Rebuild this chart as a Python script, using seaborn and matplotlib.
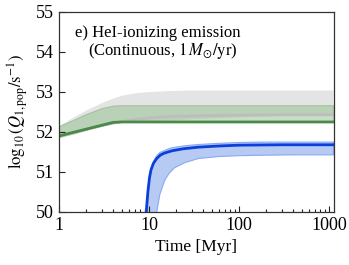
import matplotlib
matplotlib.use("Agg")
import matplotlib.pyplot as plt
import seaborn as sns
import numpy as np

# time grids [Myr]
t_old = [1, 1.5, 2, 3, 4, 5, 7, 10, 15, 20, 30, 50, 100, 300, 1100]
# grey model (band + line)
grey_lo = [51.88, 51.98, 52.05, 52.15, 52.22, 52.24, 52.26, 52.28, 52.30, 52.31, 52.33, 52.35, 52.38, 52.41, 52.43]
grey_hi = [52.15, 52.40, 52.55, 52.74, 52.85, 52.92, 52.98, 53.01, 53.03, 53.04, 53.05, 53.05, 53.05, 53.05, 53.05]
grey_mid = [51.88, 51.98, 52.06, 52.16, 52.22, 52.26, 52.31, 52.35, 52.38, 52.39, 52.40, 52.41, 52.42, 52.43, 52.43]
# green model
green_lo = [51.88, 51.98, 52.06, 52.17, 52.24, 52.25, 52.25, 52.25, 52.25, 52.25, 52.25, 52.25, 52.25, 52.25, 52.25]
green_hi = [52.15, 52.32, 52.45, 52.60, 52.66, 52.67, 52.67, 52.67, 52.67, 52.67, 52.67, 52.67, 52.67, 52.67, 52.67]
green_mid = [51.90, 52.00, 52.07, 52.17, 52.24, 52.25, 52.25, 52.25, 52.25, 52.25, 52.25, 52.25, 52.25, 52.25, 52.25]

# blue model
t_blue = [9.0, 9.3, 9.7, 10.1, 10.5, 11.2, 12.2, 13.3, 14.7, 18, 24, 35, 60, 100, 300, 1100]
blue_mid = [49.6, 50.0, 50.5, 50.85, 51.05, 51.22, 51.34, 51.42, 51.47, 51.53, 51.58, 51.62, 51.65, 51.67, 51.68, 51.68]
t_band = [9.3, 9.8, 10.5, 11.3, 12.0, 13.0, 14.7, 16.5, 19, 25, 35, 60, 100, 168, 400, 1100]
blue_lo = [49.5, 49.5, 49.5, 49.8, 50.0, 50.45, 50.80, 50.98, 51.12, 51.25, 51.35, 51.40, 51.42, 51.43, 51.44, 51.44]
blue_hi = [50.1, 50.7, 51.13, 51.32, 51.42, 51.50, 51.55, 51.60, 51.63, 51.67, 51.70, 51.73, 51.75, 51.76, 51.76, 51.76]

plt.rcParams['font.family'] = ['Liberation Serif', 'DejaVu Serif']
plt.rcParams['mathtext.fontset'] = 'stix'

fig = plt.figure(figsize=(3.49, 2.65), dpi=100)
ax = fig.add_axes([0.169, 0.2, 0.788, 0.755])

ax.fill_between(t_old, grey_lo, grey_hi, color='#e4e4e4', lw=0)
sns.lineplot(x=t_old, y=grey_mid, ax=ax, color='#bdbdbd', lw=2)
ax.fill_between(t_old, green_lo, green_hi, color='#8fbf8c', alpha=0.5, lw=0.8,
                edgecolor='#7aae77')
sns.lineplot(x=t_old, y=green_mid, ax=ax, color='#4a8a48', lw=2)
ax.fill_between(t_band, blue_lo, blue_hi, color='#a9c1f3', alpha=0.85, lw=0.8,
                edgecolor='#7c9ff0')
sns.lineplot(x=t_blue, y=blue_mid, ax=ax, color='#0b3fdc', lw=2)

ax.set_xscale('log')
ax.set_xlim(1, 1130)
ax.set_ylim(50, 55)
ax.set_xticks([1, 10, 100, 1000])
ax.set_xticklabels(['1', '10', '100', '1000'])
ax.set_yticks([50, 51, 52, 53, 54, 55])
ax.tick_params(axis='both', which='both', direction='in', labelsize=13,
               top=False, right=False, bottom=True, left=True, color='#222222')
ax.tick_params(axis='both', which='major', length=4, width=0.8)
ax.tick_params(axis='x', which='minor', length=2.5, width=0.8)
ax.tick_params(axis='y', which='minor', left=False)
for s in ax.spines.values():
    s.set_color('#333333')
    s.set_linewidth(0.9)

ax.set_xlabel('Time [Myr]', fontsize=12.5)
ax.set_ylabel(r'$\log_{10}(Q_{1,\mathrm{pop}}/\mathrm{s}^{-1})$', fontsize=12)

ax.text(0.057, 0.935, 'e) HeI-ionizing emission', transform=ax.transAxes,
        fontsize=12, va='top', ha='left')
ax.text(0.105, 0.855, r'(Continuous, $1\,M_{\odot}/\mathrm{yr}$)', transform=ax.transAxes,
        fontsize=12, va='top', ha='left')

fig.savefig('out.png', dpi=100)
